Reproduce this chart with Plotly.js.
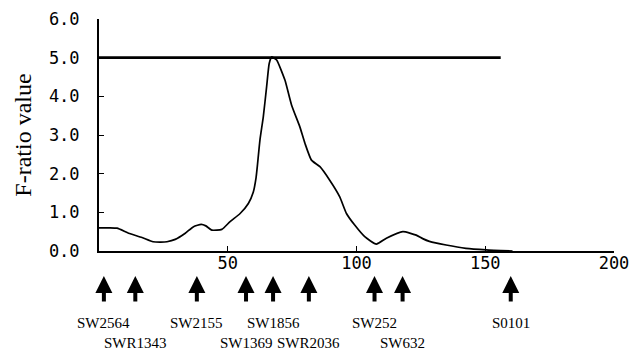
<!DOCTYPE html>
<html>
<head>
<meta charset="utf-8">
<script src="https://cdn.plot.ly/plotly-3.0.1.min.js"></script>
<style>
html,body{margin:0;padding:0;background:#fff;}
#chart{width:640px;height:356px;}
</style>
</head>
<body>
<div id="chart"></div>
<script>
// Position along the chromosome (cM) and F-ratio values of the curve
var positions = [0, 4, 7, 11.5, 16.7, 21, 24, 26.4, 29.6, 33.5, 36.7, 39.7, 41.5, 43.8, 47.7, 50.9, 54.8, 58, 59.9, 61, 61.5, 62.5, 63.8, 65.1, 66.1, 67.1, 67.8, 69, 72.2, 74.8, 78, 80, 82.5, 85.8, 89.6, 93.5, 96.1, 99.3, 103.2, 107.7, 111.6, 118, 123.2, 125.7, 128.3, 134.8, 142.5, 150.3, 160.6];
var fRatio    = [0.60, 0.60, 0.59, 0.46, 0.35, 0.24, 0.23, 0.24, 0.30, 0.46, 0.63, 0.69, 0.65, 0.54, 0.56, 0.76, 0.97, 1.23, 1.52, 1.9, 2.2, 2.87, 3.47, 4.25, 4.85, 5.02, 5.0, 4.94, 4.42, 3.77, 3.21, 2.78, 2.35, 2.18, 1.83, 1.40, 0.97, 0.67, 0.37, 0.18, 0.33, 0.50, 0.41, 0.32, 0.25, 0.155, 0.07, 0.03, 0.0];

// Significance threshold line
var thresholdX = [0, 156];
var thresholdY = [5.0, 5.0];

// Marker positions and names
var markerPos   = [1.9, 14.1, 38.0, 57.1, 67.6, 81.5, 107.0, 117.9, 159.9];
var markerNames = ["SW2564", "SWR1343", "SW2155", "SW1369", "SW1856", "SWR2036", "SW252", "SW632", "S0101"];
var markerRow   = [1, 2, 1, 2, 1, 2, 1, 2, 1];

var xTickVals = [50, 100, 150, 200];
var yTickVals = [0, 1, 2, 3, 4, 5, 6];
var yTickText = ["0.0", "1.0", "2.0", "3.0", "4.0", "5.0", "6.0"];

var traces = [
  {x: positions, y: fRatio, type: 'scatter', mode: 'lines',
   line: {color: '#000', width: 1.7, shape: 'spline', smoothing: 0.5},
   hoverinfo: 'skip', showlegend: false},
  {x: thresholdX, y: thresholdY, type: 'scatter', mode: 'lines',
   line: {color: '#000', width: 2.8}, hoverinfo: 'skip', showlegend: false}
];

var annotations = [];
for (var i = 0; i < markerPos.length; i++) {
  annotations.push({
    x: markerPos[i], xref: 'x', y: -0.108, yref: 'paper',
    text: '', showarrow: true, ax: 0, ay: 27,
    arrowhead: 2, arrowwidth: 4, arrowsize: 0.85, arrowcolor: '#000'
  });
  annotations.push({
    x: markerPos[i], xref: 'x', y: markerRow[i] === 1 ? -0.31 : -0.397, yref: 'paper',
    text: markerNames[i], showarrow: false, xanchor: 'center', yanchor: 'middle',
    font: {family: 'Liberation Serif', size: 15, color: '#000'}
  });
}

var layout = {
  width: 640, height: 356,
  margin: {l: 99, r: 26, t: 19, b: 105},
  paper_bgcolor: '#fff', plot_bgcolor: '#fff',
  showlegend: false,
  xaxis: {
    range: [0, 200], tickvals: xTickVals, ticktext: xTickVals.map(String),
    showgrid: false, zeroline: false, showline: true, linecolor: '#000', linewidth: 2,
    ticks: 'inside', ticklen: 5, tickwidth: 1, tickcolor: '#000',
    tickfont: {family: 'DejaVu Sans Mono', size: 17, color: '#000'},
    ticklabelstandoff: -4
  },
  yaxis: {
    range: [0, 6], tickvals: yTickVals, ticktext: yTickText,
    showgrid: false, zeroline: false, showline: true, linecolor: '#000', linewidth: 2,
    ticks: 'inside', ticklen: 5, tickwidth: 1, tickcolor: '#000',
    tickfont: {family: 'DejaVu Sans Mono', size: 17, color: '#000'},
    ticklabelstandoff: 14,
    title: {text: 'F-ratio value', font: {family: 'Liberation Serif', size: 24, color: '#000'}, standoff: 10}
  },
  annotations: annotations
};

Plotly.newPlot('chart', traces, layout, {displayModeBar: false, staticPlot: true});
</script>
</body>
</html>
